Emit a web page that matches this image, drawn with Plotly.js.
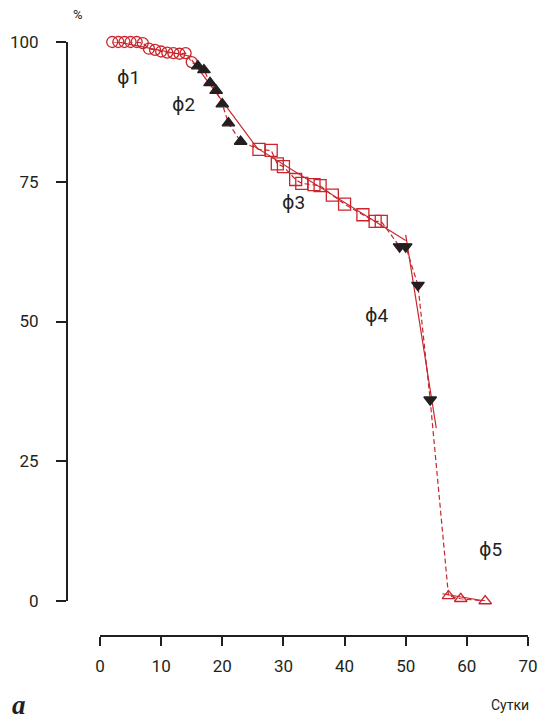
<!DOCTYPE html>
<html>
<head>
<meta charset="utf-8">
<script src="https://cdn.plot.ly/plotly-3.0.1.min.js"></script>
<style>html,body{margin:0;padding:0;background:#fff;}#chart{width:541px;height:719px;}</style>
</head>
<body>
<div id="chart"></div>
<script>
// Phase data (days, % remaining)
const phi1Days = [2, 3, 4, 5, 6, 7, 8, 9, 10, 11, 12, 13, 14, 15];
const phi1Vals = [100, 100, 100, 100, 100, 99.8, 98.8, 98.6, 98.3, 98.1, 98.0, 97.9, 98.0, 96.4];
const phi2Days = [16, 17, 18, 19, 20, 21, 23];
const phi2Vals = [95.7, 95.0, 92.7, 91.3, 88.9, 85.5, 82.2];
const phi3Days = [26, 28, 29, 30, 32, 33, 35, 36, 38, 40, 43, 45, 46];
const phi3Vals = [80.8, 80.6, 78.2, 77.7, 75.4, 74.7, 74.5, 74.3, 72.6, 71.0, 69.1, 67.9, 67.9];
const phi4Days = [49, 50, 52, 54];
const phi4Vals = [63.4, 63.4, 56.5, 36.0];
const phi5Days = [57, 59, 63];
const phi5Vals = [0.9, 0.4, 0.0];

// Fitted (solid) lines per phase
const fit1X = [2, 15],   fit1Y = [100.2, 97.4];
const fit2X = [15, 25.8], fit2Y = [96.8, 80.9];
const fit3X = [25, 50],  fit3Y = [81.5, 64.5];
const fit4X = [50, 55],  fit4Y = [65.5, 30.9];
const fit5X = [56, 63],  fit5Y = [1.3, 0.0];

const xTicks = [0, 10, 20, 30, 40, 50, 60, 70];
const yTicks = [0, 25, 50, 75, 100];

const phaseLabels = ['ϕ1', 'ϕ2', 'ϕ3', 'ϕ4', 'ϕ5'];
const phaseLabelX = [4.6, 13.6, 31.7, 45.3, 63.9];
const phaseLabelY = [93.7, 88.9, 71.2, 51.0, 9.3];

const red = '#c9252c';
const ink = '#231f20';

const allDays = [].concat(phi1Days, phi2Days, phi3Days, phi4Days, phi5Days);
const allVals = [].concat(phi1Vals, phi2Vals, phi3Vals, phi4Vals, phi5Vals);

function fitTrace(x, y) {
  return {x: x, y: y, mode: 'lines', type: 'scatter', cliponaxis: false,
          line: {color: red, width: 1.2}, hoverinfo: 'skip', showlegend: false};
}
function markTrace(x, y, symbol, size, color, lineColor) {
  return {x: x, y: y, mode: 'markers', type: 'scatter', cliponaxis: false, showlegend: false,
          marker: {symbol: symbol, size: size, color: color, line: {color: lineColor, width: 1.3}}};
}

const traces = [
  {x: allDays, y: allVals, mode: 'lines', type: 'scatter', cliponaxis: false, showlegend: false,
   line: {color: red, width: 1.2, dash: '5px,3px'}},
  fitTrace(fit1X, fit1Y), fitTrace(fit2X, fit2Y), fitTrace(fit3X, fit3Y),
  fitTrace(fit4X, fit4Y), fitTrace(fit5X, fit5Y),
  markTrace(phi1Days, phi1Vals, 'circle-open', 11, red, red),
  markTrace(phi2Days, phi2Vals, 'triangle-up', 11, ink, ink),
  markTrace(phi3Days, phi3Vals, 'square-open', 12, red, red),
  markTrace(phi4Days, phi4Vals, 'triangle-down', 11, ink, ink),
  markTrace(phi5Days, phi5Vals, 'triangle-up-open', 11, red, red)
];

const W = 541, H = 719;
const annotations = phaseLabels.map((t, i) => ({
  x: phaseLabelX[i], y: phaseLabelY[i], xref: 'x', yref: 'y', text: t, showarrow: false,
  xanchor: 'center', yanchor: 'middle', font: {family: 'Roboto, DejaVu Sans', size: 19, color: ink}
}));
annotations.push({x: 78 / W, y: 1 - 15 / H, xref: 'paper', yref: 'paper', text: '%', showarrow: false,
  xanchor: 'center', yanchor: 'middle', font: {family: 'Roboto', size: 13, color: ink}});
annotations.push({x: 510 / W, y: 1 - 705 / H, xref: 'paper', yref: 'paper', text: 'Сутки', showarrow: false,
  xanchor: 'center', yanchor: 'middle', font: {family: 'Roboto', size: 14, color: ink}});
annotations.push({x: 19 / W, y: 1 - 705 / H, xref: 'paper', yref: 'paper', text: '<b><i>a</i></b>', showarrow: false,
  xanchor: 'center', yanchor: 'middle', font: {family: 'Liberation Serif', size: 27, color: ink}});

const layout = {
  width: W, height: H,
  margin: {l: 0, r: 0, t: 0, b: 0},
  paper_bgcolor: '#fff', plot_bgcolor: '#fff',
  showlegend: false,
  xaxis: {
    domain: [100 / W, 528 / W], range: [0, 70], anchor: 'free', position: (H - 636) / H,
    tickmode: 'array', tickvals: xTicks, ticktext: xTicks.map(String),
    showgrid: false, zeroline: false, showline: true, linecolor: ink, linewidth: 2,
    ticks: 'outside', ticklen: 9, tickwidth: 2, tickcolor: ink, ticklabelstandoff: 6,
    tickfont: {family: 'Roboto', size: 17, color: ink}
  },
  yaxis: {
    domain: [(H - 601) / H, (H - 42) / H], range: [0, 100], anchor: 'free', position: 67 / W,
    tickmode: 'array', tickvals: yTicks, ticktext: yTicks.map(String),
    showgrid: false, zeroline: false, showline: true, linecolor: ink, linewidth: 2,
    ticks: 'outside', ticklen: 10, tickwidth: 2, tickcolor: ink, ticklabelstandoff: 14,
    tickfont: {family: 'Roboto', size: 17, color: ink}
  },
  annotations: annotations
};

Plotly.newPlot('chart', traces, layout, {displayModeBar: false, staticPlot: true});
</script>
</body>
</html>
